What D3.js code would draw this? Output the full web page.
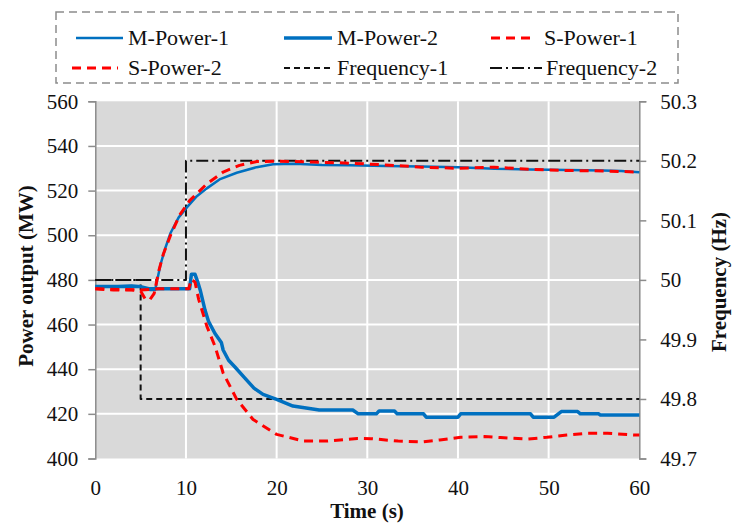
<!DOCTYPE html>
<html><head><meta charset="utf-8">
<script src="https://cdn.jsdelivr.net/npm/d3@7"></script>
<style>body{margin:0;background:#fff}svg{display:block}text{font-family:"Liberation Serif","Times New Roman",serif;fill:#111}</style>
</head><body>
<svg id="c" width="734" height="524"></svg>
<script>
const powerTicks=[400,420,440,460,480,500,520,540,560];
const freqTicks=[49.7,49.8,49.9,50,50.1,50.2,50.3];
const freqTickLabels=["49.7","49.8","49.9","50","50.1","50.2","50.3"];
const timeTicks=[0,10,20,30,40,50,60];

const mPower1=[[0,477],[2,477],[4,477.5],[5,477],[6,475.5],[6.6,475.5],[7.2,487],[7.7,494],[8.3,501],[9.2,508],[10.1,512.5],[11.2,517.5],[12.3,521],[13.7,525],[15.6,528],[17.8,530.5],[19.6,531.8],[22,532],[25,531.5],[28,531.3],[32,531],[36,530.8],[40,530.5],[44,529.8],[48,529.5],[52,529.2],[56,529],[58,528.8],[60,528.2]];
const mPower2=[[0,477],[5,477],[6,476],[10.4,476],[10.6,482.5],[11,482.5],[11.3,479],[11.6,475],[12.1,466.5],[12.5,461.3],[13.2,456],[13.9,452],[14.1,448.6],[14.7,444],[15.4,441],[16.5,436],[17.5,431.5],[18.5,428.7],[20,426.5],[21.8,423.5],[24.7,421.7],[28.4,421.7],[29,420],[31,420],[31.3,421.3],[33,421.3],[33.3,420],[36.2,420],[36.5,418.5],[40,418.5],[40.3,420],[48,420],[48.3,418.5],[50.6,418.5],[51.4,421],[53.2,421],[53.5,420],[55.5,420],[55.7,419.5],[60,419.5]];
const sPower1=[[0,476],[2,475.5],[4,475.5],[5,475],[5.5,471.5],[6,471],[6.5,474],[7,484],[7.5,491.5],[8.3,500],[9.3,509],[10.4,515.5],[12.3,523],[14.1,528.3],[15.9,531.3],[17.8,533],[20,533.2],[24,532.8],[28,532.3],[32,531.5],[36,530.5],[40,530],[44,530.5],[48,529.5],[52,529],[56,528.8],[60,528.3]];
const sPower2=[[0,476],[5,475.5],[7,476],[10.3,476],[10.6,480.3],[11,479],[11.4,471.3],[12.3,459.3],[13.2,450.3],[14.1,438.3],[15.6,426.5],[17.4,417.5],[20,410.8],[23,407.8],[25.6,407.8],[28.9,409],[30.4,408.9],[33.4,407.8],[36,407.4],[38,408.3],[40.3,409.5],[42.9,409.8],[44.7,409.4],[47.6,408.7],[49.8,409.5],[52,410.5],[54.3,411.3],[56.5,411.3],[59.4,410.5],[60,410.5]];
const freq1=[[0,50],[5,50],[5,49.8],[60,49.8]];
const freq2=[[0,50],[10,50],[10,50.2],[60,50.2]];

const svg=d3.select("#c");
const L=95.3,R=639.3,T=101.3,B=458.5;
const x=d3.scaleLinear().domain([0,60]).range([L,R]);
const yP=d3.scaleLinear().domain([400,560]).range([B,T]);
const yF=d3.scaleLinear().domain([49.7,50.3]).range([B,T]);

svg.append("rect").attr("x",L).attr("y",T).attr("width",R-L).attr("height",B-T).attr("fill","#d9d9d9");
svg.append("g").selectAll("line").data(powerTicks.slice(1,-1)).join("line")
 .attr("x1",L).attr("x2",R).attr("y1",d=>yP(d)).attr("y2",d=>yP(d)).attr("stroke","#fff").attr("stroke-width",2);
svg.append("g").selectAll("line").data(timeTicks.slice(1,-1)).join("line")
 .attr("x1",d=>x(d)).attr("x2",d=>x(d)).attr("y1",T).attr("y2",B).attr("stroke","#fff").attr("stroke-width",2);

const axL=svg.append("g").attr("transform",`translate(${L},0)`).call(d3.axisLeft(yP).tickValues(powerTicks).tickSizeOuter(0).tickSize(7).tickPadding(10));
const axR=svg.append("g").attr("transform",`translate(${R},0)`).call(d3.axisRight(yF).tickValues(freqTicks).tickFormat((d,i)=>freqTickLabels[i]).tickSizeOuter(0).tickSize(7).tickPadding(14));
const axB=svg.append("g").attr("transform",`translate(0,${B})`).call(d3.axisBottom(x).tickValues(timeTicks).tickSize(0).tickPadding(22));
axB.select(".domain").remove();
[axL,axR].forEach(a=>{a.select(".domain").attr("stroke","#8c8c8c").attr("stroke-width",1.5);a.selectAll(".tick line").attr("stroke","#8c8c8c").attr("stroke-width",1.5);});
[axL,axR,axB].forEach(a=>a.selectAll(".tick text").attr("font-size",21).attr("font-family","Liberation Serif").attr("fill","#111"));

svg.append("text").attr("transform","translate(33,276) rotate(-90)").attr("text-anchor","middle").attr("font-size",21).attr("font-weight","bold").text("Power output (MW)");
svg.append("text").attr("transform","translate(726,282) rotate(-90)").attr("text-anchor","middle").attr("font-size",21).attr("font-weight","bold").text("Frequency (Hz)");
svg.append("text").attr("x",367).attr("y",518).attr("text-anchor","middle").attr("font-size",21).attr("font-weight","bold").text("Time (s)");

const lp=d3.line().x(d=>x(d[0])).y(d=>yP(d[1]));
const lf=d3.line().x(d=>x(d[0])).y(d=>yF(d[1]));
const styles={
 m1:{c:"#0070c0",w:2.5,da:null},
 m2:{c:"#0070c0",w:3.5,da:null},
 s1:{c:"#ff0000",w:3,da:"9,6"},
 s2:{c:"#ff0000",w:3,da:"9,6"},
 f1:{c:"#111",w:2,da:"6,4"},
 f2:{c:"#111",w:2,da:"12,4,2,4"}
};
function draw(data,gen,s){svg.append("path").datum(data).attr("d",gen).attr("fill","none").attr("stroke",s.c).attr("stroke-width",s.w).attr("stroke-dasharray",s.da).attr("stroke-linejoin","round");}
draw(freq1,lf,styles.f1);
draw(freq2,lf,styles.f2);
draw(mPower1,lp,styles.m1);
draw(mPower2,lp,styles.m2);
draw(sPower1,lp,styles.s1);
draw(sPower2,lp,styles.s2);

svg.append("rect").attr("x",56).attr("y",12).attr("width",622).attr("height",71).attr("fill","none").attr("stroke","#8c8c8c").attr("stroke-width",1.5).attr("stroke-dasharray","8,5");
const legend=[
 {n:"M-Power-1",s:styles.m1,x1:76,x2:123,tx:128,y:38},
 {n:"M-Power-2",s:styles.m2,x1:284,x2:332,tx:337,y:38},
 {n:"S-Power-1",s:styles.s1,x1:491,x2:535,tx:544,y:38},
 {n:"S-Power-2",s:styles.s2,x1:72,x2:118,tx:128,y:68},
 {n:"Frequency-1",s:styles.f1,x1:284,x2:334,tx:337,y:68},
 {n:"Frequency-2",s:styles.f2,x1:490,x2:542,tx:546,y:68}
];
legend.forEach(d=>{
 svg.append("line").attr("x1",d.x1).attr("x2",d.x2).attr("y1",d.y).attr("y2",d.y).attr("stroke",d.s.c).attr("stroke-width",d.s.w).attr("stroke-dasharray",d.s.da);
 svg.append("text").attr("x",d.tx).attr("y",d.y+7).attr("font-size",22).text(d.n);
});
</script>
</body></html>
